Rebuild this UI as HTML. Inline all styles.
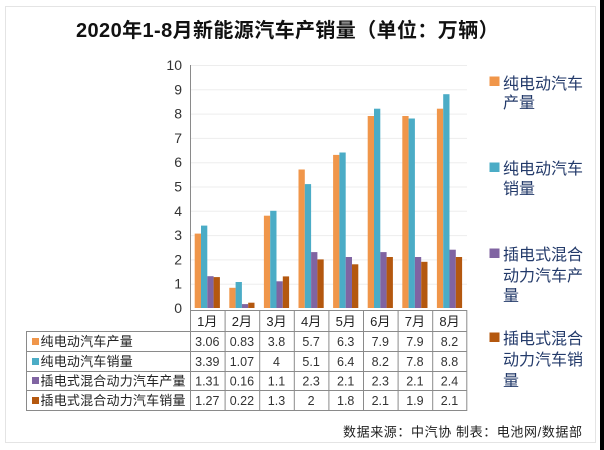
<!DOCTYPE html>
<html><head><meta charset="utf-8">
<style>
html,body{margin:0;padding:0;background:#fff;}
svg{display:block;}
text{font-family:"Liberation Sans","Noto Sans CJK SC",sans-serif;}
</style></head>
<body>
<svg width="604" height="450" viewBox="0 0 604 450" xmlns="http://www.w3.org/2000/svg">
<rect x="0" y="0" width="604" height="450" fill="#fff"/>
<!-- frame -->
<rect x="5.5" y="6.5" width="590" height="436" fill="none" stroke="#e4e4e4" stroke-width="1"/>
<rect x="600" y="0" width="4" height="450" fill="#000"/>

<!-- title -->
<text x="76" y="37" font-size="20" font-weight="bold" fill="#111" letter-spacing="0.4">2020年1-8月新能源汽车产销量（单位：万辆）</text>

<!-- gridlines -->
<g stroke="#ededed" stroke-width="1">
<line x1="190" y1="65.5" x2="467" y2="65.5"/>
<line x1="190" y1="89.8" x2="467" y2="89.8"/>
<line x1="190" y1="114.1" x2="467" y2="114.1"/>
<line x1="190" y1="138.4" x2="467" y2="138.4"/>
<line x1="190" y1="162.7" x2="467" y2="162.7"/>
<line x1="190" y1="187" x2="467" y2="187"/>
<line x1="190" y1="211.3" x2="467" y2="211.3"/>
<line x1="190" y1="235.6" x2="467" y2="235.6"/>
<line x1="190" y1="259.9" x2="467" y2="259.9"/>
<line x1="190" y1="284.2" x2="467" y2="284.2"/>
</g>

<!-- y labels -->
<g font-size="14" fill="#333" text-anchor="end">
<text x="182" y="70">10</text>
<text x="182" y="94.3">9</text>
<text x="182" y="118.6">8</text>
<text x="182" y="142.9">7</text>
<text x="182" y="167.2">6</text>
<text x="182" y="191.5">5</text>
<text x="182" y="215.8">4</text>
<text x="182" y="240.1">3</text>
<text x="182" y="264.4">2</text>
<text x="182" y="288.7">1</text>
<text x="182" y="313">0</text>
</g>

<!-- bars -->
<g>
<rect x="194.7" y="233.6" width="6.3" height="74.4" fill="#F0964A"/>
<rect x="201" y="225.6" width="6.3" height="82.4" fill="#4BACC6"/>
<rect x="207.3" y="276.2" width="6.3" height="31.8" fill="#8064A2"/>
<rect x="213.6" y="277.1" width="6.3" height="30.9" fill="#B4580F"/>
<rect x="229.3" y="287.8" width="6.3" height="20.2" fill="#F0964A"/>
<rect x="235.6" y="282" width="6.3" height="26" fill="#4BACC6"/>
<rect x="241.9" y="304.1" width="6.3" height="3.9" fill="#8064A2"/>
<rect x="248.2" y="302.7" width="6.3" height="5.3" fill="#B4580F"/>
<rect x="263.9" y="215.7" width="6.3" height="92.3" fill="#F0964A"/>
<rect x="270.2" y="210.8" width="6.3" height="97.2" fill="#4BACC6"/>
<rect x="276.5" y="281.3" width="6.3" height="26.7" fill="#8064A2"/>
<rect x="282.8" y="276.4" width="6.3" height="31.6" fill="#B4580F"/>
<rect x="298.5" y="169.5" width="6.3" height="138.5" fill="#F0964A"/>
<rect x="304.8" y="184.1" width="6.3" height="123.9" fill="#4BACC6"/>
<rect x="311.1" y="252.1" width="6.3" height="55.9" fill="#8064A2"/>
<rect x="317.4" y="259.4" width="6.3" height="48.6" fill="#B4580F"/>
<rect x="333.1" y="154.9" width="6.3" height="153.1" fill="#F0964A"/>
<rect x="339.4" y="152.5" width="6.3" height="155.5" fill="#4BACC6"/>
<rect x="345.7" y="257" width="6.3" height="51" fill="#8064A2"/>
<rect x="352" y="264.3" width="6.3" height="43.7" fill="#B4580F"/>
<rect x="367.7" y="116" width="6.3" height="192" fill="#F0964A"/>
<rect x="374" y="108.7" width="6.3" height="199.3" fill="#4BACC6"/>
<rect x="380.3" y="252.1" width="6.3" height="55.9" fill="#8064A2"/>
<rect x="386.6" y="257" width="6.3" height="51" fill="#B4580F"/>
<rect x="402.3" y="116" width="6.3" height="192" fill="#F0964A"/>
<rect x="408.6" y="118.5" width="6.3" height="189.5" fill="#4BACC6"/>
<rect x="414.9" y="257" width="6.3" height="51" fill="#8064A2"/>
<rect x="421.2" y="261.8" width="6.3" height="46.2" fill="#B4580F"/>
<rect x="436.9" y="108.7" width="6.3" height="199.3" fill="#F0964A"/>
<rect x="443.2" y="94.2" width="6.3" height="213.8" fill="#4BACC6"/>
<rect x="449.5" y="249.7" width="6.3" height="58.3" fill="#8064A2"/>
<rect x="455.8" y="257" width="6.3" height="51" fill="#B4580F"/>
</g>

<!-- axis line -->
<line x1="190.5" y1="65" x2="190.5" y2="410" stroke="#8a8a8a" stroke-width="1"/>

<!-- table -->
<g stroke="#8a8a8a" stroke-width="1" fill="none">
<line x1="190" y1="310.5" x2="467" y2="310.5"/>
<line x1="26" y1="331.5" x2="467" y2="331.5"/>
<line x1="26" y1="351.5" x2="467" y2="351.5"/>
<line x1="26" y1="371.5" x2="467" y2="371.5"/>
<line x1="26" y1="390.5" x2="467" y2="390.5"/>
<line x1="26" y1="410.5" x2="467" y2="410.5"/>
<line x1="26.5" y1="331" x2="26.5" y2="411"/>
<line x1="225.1" y1="310" x2="225.1" y2="411"/>
<line x1="259.7" y1="310" x2="259.7" y2="411"/>
<line x1="294.3" y1="310" x2="294.3" y2="411"/>
<line x1="328.9" y1="310" x2="328.9" y2="411"/>
<line x1="363.5" y1="310" x2="363.5" y2="411"/>
<line x1="398.1" y1="310" x2="398.1" y2="411"/>
<line x1="432.7" y1="310" x2="432.7" y2="411"/>
<line x1="466.8" y1="310" x2="466.8" y2="411"/>
</g>

<!-- month headers -->
<g font-size="13" fill="#222" text-anchor="middle">
<text x="207.3" y="326">1月</text>
<text x="241.9" y="326">2月</text>
<text x="276.5" y="326">3月</text>
<text x="311.1" y="326">4月</text>
<text x="345.7" y="326">5月</text>
<text x="380.3" y="326">6月</text>
<text x="414.9" y="326">7月</text>
<text x="449.5" y="326">8月</text>
</g>

<!-- row headers -->
<rect x="32" y="338" width="7" height="7" fill="#F0964A"/>
<rect x="32" y="358" width="7" height="7" fill="#4BACC6"/>
<rect x="32" y="377" width="7" height="7" fill="#8064A2"/>
<rect x="32" y="397" width="7" height="7" fill="#B4580F"/>
<g font-size="13" fill="#222" letter-spacing="0.2">
<text x="40.5" y="346">纯电动汽车产量</text>
<text x="40.5" y="366">纯电动汽车销量</text>
<text x="40.5" y="385.5">插电式混合动力汽车产量</text>
<text x="40.5" y="405">插电式混合动力汽车销量</text>
</g>

<!-- data values -->
<g font-size="12.5" fill="#333" text-anchor="middle">
<text x="207.3" y="346">3.06</text><text x="241.9" y="346">0.83</text><text x="276.5" y="346">3.8</text><text x="311.1" y="346">5.7</text><text x="345.7" y="346">6.3</text><text x="380.3" y="346">7.9</text><text x="414.9" y="346">7.9</text><text x="449.5" y="346">8.2</text>
<text x="207.3" y="366">3.39</text><text x="241.9" y="366">1.07</text><text x="276.5" y="366">4</text><text x="311.1" y="366">5.1</text><text x="345.7" y="366">6.4</text><text x="380.3" y="366">8.2</text><text x="414.9" y="366">7.8</text><text x="449.5" y="366">8.8</text>
<text x="207.3" y="385.5">1.31</text><text x="241.9" y="385.5">0.16</text><text x="276.5" y="385.5">1.1</text><text x="311.1" y="385.5">2.3</text><text x="345.7" y="385.5">2.1</text><text x="380.3" y="385.5">2.3</text><text x="414.9" y="385.5">2.1</text><text x="449.5" y="385.5">2.4</text>
<text x="207.3" y="405">1.27</text><text x="241.9" y="405">0.22</text><text x="276.5" y="405">1.3</text><text x="311.1" y="405">2</text><text x="345.7" y="405">1.8</text><text x="380.3" y="405">2.1</text><text x="414.9" y="405">1.9</text><text x="449.5" y="405">2.1</text>
</g>

<!-- legend -->
<rect x="489.5" y="76.5" width="10" height="9.5" fill="#F0964A"/>
<rect x="489.5" y="162.5" width="10" height="9.5" fill="#4BACC6"/>
<rect x="489.5" y="248.5" width="10" height="9.5" fill="#8064A2"/>
<rect x="489.5" y="332.5" width="10" height="9.5" fill="#B4580F"/>
<g font-size="16" fill="#233a6a">
<text x="503" y="89">纯电动汽车</text>
<text x="503" y="108">产量</text>
<text x="503" y="174">纯电动汽车</text>
<text x="503" y="194">销量</text>
<text x="503" y="260">插电式混合</text>
<text x="503" y="281">动力汽车产</text>
<text x="503" y="301">量</text>
<text x="503" y="344">插电式混合</text>
<text x="503" y="365">动力汽车销</text>
<text x="503" y="386">量</text>
</g>

<!-- footer -->
<text x="343" y="436.5" font-size="13" fill="#222" letter-spacing="0.6">数据来源：中汽协  制表：电池网/数据部</text>
</svg>
</body></html>
